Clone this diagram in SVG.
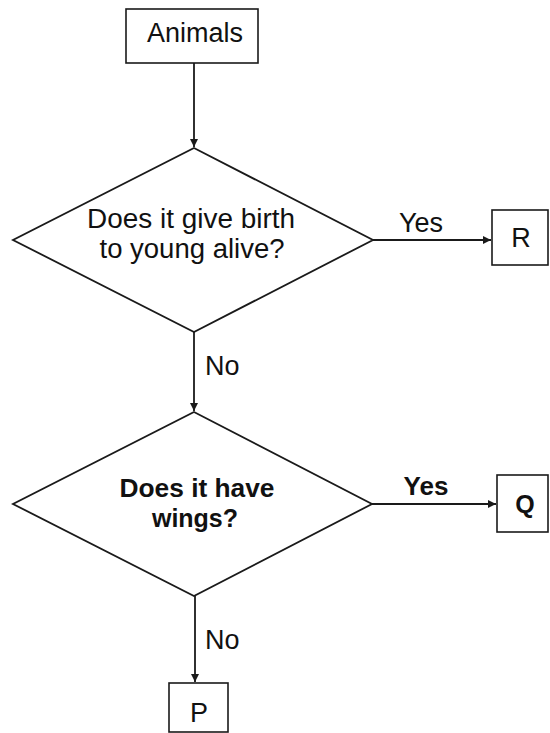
<svg xmlns="http://www.w3.org/2000/svg" width="550" height="733" viewBox="0 0 550 733">
<style>
.box{fill:#fff;stroke:#1a1a1a;stroke-width:1.6}
.dia{fill:#fff;stroke:#1a1a1a;stroke-width:1.8}
.t{font-family:"Liberation Sans",Arial,sans-serif;font-size:27px;fill:#111;text-anchor:middle}
.s{text-anchor:start}
.b{font-weight:bold;font-size:25px}
.ln{stroke:#1a1a1a;stroke-width:1.8;fill:none}
</style>
<defs>
<marker id="ah" viewBox="0 0 10 10" refX="10" refY="5" markerWidth="10" markerHeight="8" markerUnits="userSpaceOnUse" orient="auto">
<path d="M0,0 L10,5 L0,10 z" fill="#1a1a1a"/>
</marker>
</defs>
<rect width="550" height="733" fill="#fff"/>
<g id="connectors">
<line class="ln" x1="194" y1="63" x2="194" y2="147" marker-end="url(#ah)"/>
<line class="ln" x1="373" y1="240" x2="491" y2="240" marker-end="url(#ah)"/>
<line class="ln" x1="194" y1="332" x2="194" y2="411" marker-end="url(#ah)"/>
<line class="ln" x1="372" y1="504" x2="496" y2="504" marker-end="url(#ah)"/>
<line class="ln" x1="195" y1="596" x2="195" y2="682" marker-end="url(#ah)"/>
<text class="t" x="421" y="232">Yes</text>
<text class="t s" x="205" y="375">No</text>
<text class="t b" x="426" y="495" style="font-size:26px">Yes</text>
<text class="t s" x="205" y="649">No</text>
</g>
<g id="animals">
<rect class="box" x="126" y="9" width="132" height="54"/>
<text class="t" x="195" y="42">Animals</text>
</g>
<g id="q1">
<polygon class="dia" points="194,148 373,240 194,332 13,240"/>
<text class="t" x="191" y="228" textLength="208" lengthAdjust="spacingAndGlyphs">Does it give birth</text>
<text class="t" x="192" y="258" textLength="185" lengthAdjust="spacingAndGlyphs">to young alive?</text>
</g>
<g id="R">
<rect class="box" x="492" y="210" width="56" height="55"/>
<text class="t" x="521" y="247">R</text>
</g>
<g id="q2">
<polygon class="dia" points="194,412 372,504 194,596 13,504"/>
<text class="t b" x="197" y="497" textLength="155" lengthAdjust="spacingAndGlyphs">Does it have</text>
<text class="t b" x="195" y="527">wings?</text>
</g>
<g id="Q">
<rect class="box" x="497" y="475" width="51" height="57"/>
<text class="t b" x="525" y="513">Q</text>
</g>
<g id="P">
<rect class="box" x="169" y="683" width="59" height="49"/>
<text class="t" x="199" y="722">P</text>
</g>
</svg>
